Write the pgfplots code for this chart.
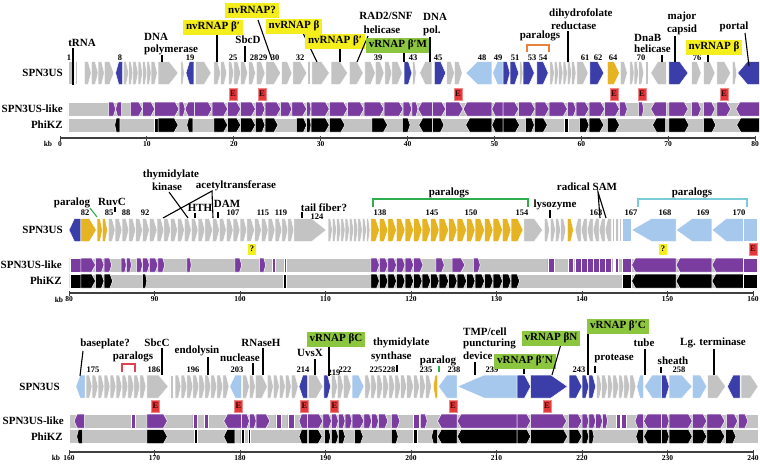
\documentclass[border=0pt]{standalone}
\usepackage{pgfplots}
\pgfplotsset{compat=1.18}
\usepackage{fontspec}
\setmainfont{Liberation Serif}
\definecolor{gg}{HTML}{C3C3C3}
\definecolor{bl}{HTML}{3B3EA8}
\definecolor{lb}{HTML}{A6C8EC}
\definecolor{gd}{HTML}{E6B422}
\definecolor{pu}{HTML}{7A3C9E}
\definecolor{bk}{HTML}{000000}
\definecolor{yb}{HTML}{F4EE1C}
\definecolor{gb}{HTML}{8CC63F}
\definecolor{eb}{HTML}{E5383B}
\definecolor{obr}{HTML}{E8823A}
\definecolor{gbr}{HTML}{2DB04B}
\definecolor{cbr}{HTML}{7CCBDB}
\definecolor{rbr}{HTML}{E0404F}

\newcommand\onegene[8]{%
  \pgfmathsetmacro\hd{min(#3*(#6-#5),#4)}%
  \pgfmathsetmacro\tlx{#7<0 ? #6 : #5}%
  \pgfmathsetmacro\tpx{#7<0 ? #5 : #6}%
  \pgfmathsetmacro\nkx{\tpx-(#7)*\hd}%
  \pgfmathsetmacro\ylo{#1-#2}%
  \pgfmathsetmacro\yhi{#1+#2}%
  \edef\temp{\noexpand\addplot[fill=#8,draw=white,line width=0.5pt,forget plot] coordinates {(\tlx,\ylo) (\nkx,\ylo) (\tpx,#1) (\nkx,\yhi) (\tlx,\yhi)} -- cycle;}%
  \temp}
\newcommand\genes[2]{\foreach \xa/\xb/\dr/\cl in {#2}{\onegene{#1}{11.5}{0.45}{10}{\xa}{\xb}{\dr}{\cl}}}
\newcommand\bars[3]{\foreach \xa/\xb/\dr in {#3}{\onegene{#1}{7}{0.3}{0.45}{\xa}{\xb}{\dr}{#2}}}

\pgfplotsset{rowax/.style={scale only axis, clip=false, axis x line=bottom, axis y line=none,
  axis line style={-, line width=1.1pt, black!75}, tick style={line width=1pt, black!75},
  major tick length=5pt, tick align=center, ytick=\empty, enlargelimits=false, anchor=south west,
  xticklabel style={font=\fontsize{7.5}{8}\selectfont\bfseries, inner sep=1pt},
  /pgf/number format/assume math mode=true}}

\begin{document}
\begin{tikzpicture}
% ---------------- Row 1 ----------------
\begin{axis}[rowax, at={(60pt,-138pt)}, width=695pt, height=138pt, xmin=0, xmax=80, ymin=-138, ymax=0, xtick={0,10,...,80}]
\bars{-109}{gg}{0.9/80.5/0}
\bars{-125}{gg}{0.9/80.5/0}
\genes{-73}{1.0/1.4/0/gg,1.7/2.0/0/gg,2.8/3.6/1/gg,3.6/4.4/1/gg,4.4/5.1/1/gg,5.1/6.2/1/gg,6.4/7.2/-1/bl,7.3/7.9/1/gg,7.9/8.4/1/gg,8.4/9.0/1/gg,9.0/9.5/1/gg,9.5/10.0/1/gg,10.0/10.5/1/gg,10.5/11.2/1/gg,11.3/13.6/1/gg,13.9/14.3/1/gg,14.5/15.4/-1/bl,15.6/17.4/1/gg,17.7/18.5/1/gg,18.5/19.2/1/gg,19.4/20.0/1/gg,20.0/20.8/1/gg,20.8/21.6/1/gg,21.7/22.5/1/gg,22.6/23.6/1/gg,23.7/25.4/1/gg,25.5/26.7/1/gg,26.8/28.4/1/gg,28.5/28.8/0/gg,29.0/31.0/1/gg,31.2/33.1/1/gg,33.3/34.9/1/gg,35.1/36.3/1/gg,36.3/37.3/1/gg,37.4/38.2/1/gg,38.2/39.4/1/gg,39.6/40.5/1/bl,40.6/41.0/1/gg,41.4/42.8/-1/gg,43.1/44.4/1/bl,44.5/45.4/1/gg,45.4/46.3/1/gg,46.7/49.7/-1/lb,49.8/51.0/-1/lb,51.0/51.8/1/bl,51.8/52.8/1/bl,52.9/53.3/1/gg,53.3/54.6/1/bl,54.9/56.2/1/bl,56.4/56.9/1/gg,56.9/57.4/1/gg,57.4/57.9/1/gg,57.9/58.4/1/gg,58.4/58.9/1/gg,58.9/59.4/1/gg,59.5/60.8/1/gg,61.0/62.6/1/bl,63.0/64.4/1/gd,64.5/65.3/1/gg,65.6/66.1/1/gg,66.1/66.6/1/gg,66.6/67.2/1/gg,67.4/67.7/0/gg,68.0/69.8/-1/gg,70.1/72.3/1/bl,72.7/73.8/1/gg,74.1/75.4/1/gg,75.6/77.2/1/gg,77.4/77.9/1/gg,78.0/80.5/-1/bl}
\bars{-109}{pu}{5.6/6.4/1,6.4/7.1/-1,8.1/9.5/1,9.5/10.9/1,10.9/13.7/1,13.7/14.4/1,14.4/15.5/-1,15.5/17.5/1,17.5/19.3/1,19.3/20.8/1,20.8/22.5/1,22.5/23.6/1,23.6/25.4/1,25.4/26.7/1,26.7/28.4/1,28.4/28.9/1,28.9/31.0/1,31.0/33.1/1,33.1/35.0/1,35.0/37.3/1,37.3/39.5/1,39.5/40.5/1,40.5/41.2/1,41.2/42.9/-1,42.9/44.4/1,44.4/46.4/1,46.4/49.7/-1,49.7/51.0/-1,51.0/52.8/1,52.8/54.7/1,54.7/56.3/1,56.3/58.4/1,58.4/59.4/1,59.4/60.9/1,60.9/62.7/1,62.7/64.4/1,64.4/65.3/1,66.6/67.2/1,68.0/69.8/-1,70.1/72.3/1,72.7/73.8/1,74.1/75.4/1,75.6/77.2/1,77.8/80.5/-1}
\bars{-125}{bk}{6.3/6.9/-1,10.9/11.3/0,11.3/13.6/1,14.6/15.3/-1,17.7/19.3/1,19.3/20.8/1,20.8/22.5/1,22.5/23.6/1,23.6/25.1/1,27.2/28.4/1,28.4/28.9/1,28.9/31.0/1,31.0/32.8/1,35.9/37.7/1,39.4/40.3/1,41.3/42.9/-1,42.9/44.2/1,46.7/49.7/-1,49.7/51.0/-1,51.0/52.9/1,53.6/54.6/1,54.6/56.1/1,58.1/58.5/0,59.8/60.9/1,60.9/62.6/1,63.0/64.4/1,68.2/69.7/-1,70.1/72.4/1,74.1/75.5/1,77.9/80.5/-1}
\end{axis}
% ---------------- Row 2 ----------------
\begin{axis}[rowax, at={(69pt,-293pt)}, width=684pt, height=138pt, xmin=80, xmax=160, ymin=-293, ymax=-155, xtick={80,90,...,160}]
\bars{-265}{gg}{80.0/160.5/0}
\bars{-281}{gg}{80.0/160.5/0}
\genes{-230}{80.0/81.4/-1/bl,81.4/83.2/1/gd,83.3/83.9/1/gd,83.9/84.5/1/gd,84.6/85.4/1/gg,85.4/86.2/1/gg,86.2/87.0/1/gg,87.0/87.8/1/gg,87.8/88.6/1/gg,88.6/89.4/1/gg,89.4/90.3/1/gg,90.3/91.1/1/gg,91.1/91.9/1/gg,91.9/92.7/1/gg,92.7/93.5/1/gg,93.5/94.3/1/gg,94.3/95.1/1/gg,95.1/95.9/1/gg,95.9/96.8/1/gg,96.8/97.6/1/gg,97.6/98.4/1/gg,98.4/99.2/1/gg,99.2/100.0/1/gg,100.0/100.8/1/gg,100.8/101.7/1/gg,101.7/102.5/1/gg,102.5/103.3/1/gg,103.3/104.1/1/gg,104.1/104.9/1/gg,104.9/105.6/1/gg,105.6/106.3/1/gg,106.3/110.1/1/gg,110.3/110.8/1/gg,110.8/111.3/1/gg,111.3/111.8/1/gg,111.8/112.3/1/gg,112.3/112.8/1/gg,112.8/113.3/1/gg,113.3/113.8/1/gg,113.8/114.3/1/gg,114.3/114.8/1/gg,114.8/115.2/1/gg,115.3/116.3/1/gd,116.3/117.3/1/gd,117.3/118.3/1/gd,118.3/119.3/1/gd,119.3/120.3/1/gd,120.3/121.3/1/gd,121.3/122.3/1/gd,122.3/123.3/1/gd,123.3/124.4/1/gd,124.4/125.4/1/gd,125.4/126.5/1/gd,126.5/127.5/1/gd,127.5/128.6/1/gd,128.6/129.6/1/gd,129.6/130.7/1/gd,130.7/131.7/1/gd,131.7/133.1/1/gd,133.2/135.4/1/gg,135.6/136.2/1/gg,136.3/136.9/1/gg,136.9/137.5/1/gg,137.5/138.1/1/gg,138.3/139.0/1/gd,139.2/139.9/-1/gg,139.9/140.6/-1/gg,140.6/141.3/-1/gg,141.3/142.0/-1/gg,142.0/142.7/-1/gg,142.7/143.4/-1/gg,143.5/143.8/0/gg,143.9/144.2/0/gg,144.3/144.6/0/gg,144.7/145.8/0/lb,145.8/151.0/-1/lb,151.0/155.2/-1/lb,155.2/158.9/-1/lb,158.9/160.5/0/lb}
\bars{-265}{pu}{80.1/81.4/0,81.4/83.1/1,83.1/84.1/1,84.1/85.0/1,86.1/86.7/1,86.7/87.3/1,87.9/88.6/1,88.6/89.4/1,89.4/90.4/1,90.4/91.2/1,93.8/94.3/1,99.4/100.2/1,102.3/103.0/1,103.8/104.1/0,105.2/105.4/0,115.3/116.3/1,116.3/117.3/1,117.3/118.3/1,118.3/119.3/1,119.3/120.3/1,120.3/121.4/1,122.9/123.9/1,124.8/126.3/1,127.3/128.1/1,136.0/136.7/0,138.4/139.0/0,139.2/139.9/0,139.9/140.6/0,140.6/141.3/0,141.3/142.0/0,142.0/142.7/0,142.7/143.4/0,143.6/143.8/0,143.9/144.2/0,144.7/145.8/0,145.8/151.0/-1,151.0/155.2/-1,155.2/158.9/-1,158.9/160.5/0}
\bars{-281}{bk}{80.1/81.4/0,81.4/83.1/1,83.1/84.1/1,84.1/85.1/1,88.6/89.1/1,105.1/105.4/0,115.3/116.3/1,116.3/117.3/1,117.3/118.3/1,118.3/119.3/1,119.3/120.3/1,120.3/121.3/1,121.3/122.3/1,122.3/123.3/1,123.3/124.4/1,124.4/125.4/1,125.4/126.5/1,126.5/127.5/1,127.5/128.6/1,128.6/129.6/1,129.6/130.7/1,130.7/131.7/1,131.7/132.7/1,144.7/145.8/0,145.8/151.0/-1,151.0/155.2/-1,155.2/158.9/-1,158.9/160.5/0}
\end{axis}
% ---------------- Row 3 ----------------
\begin{axis}[rowax, at={(69pt,-452pt)}, width=684pt, height=147pt, xmin=160, xmax=240, ymin=-452, ymax=-305, xtick={160,170,...,240}]
\bars{-421}{gg}{160.0/240.6/0}
\bars{-436.5}{gg}{160.0/240.6/0}
\genes{-386.5}{160.8/161.9/-1/lb,162.0/162.7/1/gg,162.7/163.4/1/gg,163.4/164.1/1/gg,164.1/164.8/1/gg,164.8/165.5/1/gg,165.5/166.2/1/gg,166.2/166.9/1/gg,166.9/167.6/1/gg,167.6/168.3/1/gg,168.3/169.0/1/gg,169.1/171.6/1/gg,171.8/172.2/0/gg,172.4/173.1/1/gg,173.1/173.8/1/gg,173.8/174.5/1/gg,174.5/175.2/1/gg,175.2/175.9/1/gg,175.9/176.6/1/gg,176.6/177.3/1/gg,177.3/178.0/1/gg,178.0/178.7/1/gg,178.8/180.2/-1/lb,180.3/181.1/1/gg,181.1/181.8/1/gg,181.8/183.2/1/gg,183.2/183.9/1/gg,183.9/184.6/1/gg,184.6/185.3/1/gg,185.3/186.0/1/gg,186.0/186.8/1/gg,186.9/187.9/-1/bl,188.0/189.7/1/gg,189.8/190.6/1/bl,190.7/191.4/1/gg,191.4/192.1/1/gg,192.1/193.0/1/gg,193.1/194.5/1/lb,194.6/195.3/1/gg,195.3/196.0/1/gg,196.0/196.7/1/gg,196.7/197.4/1/gg,197.4/198.1/1/gg,198.1/198.8/1/gg,198.8/199.5/1/gg,199.5/200.3/1/gg,200.3/201.0/1/gg,201.0/201.7/1/gg,201.7/202.4/1/gg,202.6/203.1/-1/gd,203.2/205.4/-1/lb,205.4/212.4/-1/lb,212.4/214.0/1/bl,214.0/218.3/1/bl,218.5/220.0/1/bl,220.0/220.8/1/bl,220.8/221.6/1/bl,221.7/222.3/1/gg,222.3/223.0/1/gg,223.0/223.6/1/gg,223.6/224.3/1/gg,224.3/224.9/1/gg,224.9/225.6/1/gg,225.6/226.3/1/gg,226.4/227.2/-1/lb,227.3/229.3/-1/lb,229.3/230.2/1/bl,230.2/232.9/1/lb,232.9/234.6/1/lb,234.7/236.8/1/gg,237.0/238.5/-1/bl,238.6/240.6/1/gg}
\bars{-421}{pu}{160.6/161.8/-1,167.3/167.7/0,169.1/171.5/1,174.5/175.0/0,175.8/176.3/0,178.1/180.2/-1,180.2/181.1/1,181.1/181.9/1,181.9/183.5/1,184.2/184.8/0,185.6/186.3/0,186.9/187.9/-1,187.9/189.7/1,189.7/190.7/1,190.7/191.5/1,191.5/192.3/1,192.3/193.1/1,193.1/194.5/1,194.5/195.4/1,195.4/196.2/1,196.2/197.3/1,197.7/198.7/1,200.3/201.0/0,201.1/201.9/1,203.1/205.4/-1,205.4/212.4/-1,212.4/214.0/1,214.0/218.2/1,218.4/220.0/1,220.0/220.8/1,220.8/221.6/1,221.6/222.4/1,222.4/223.0/1,224.0/224.5/0,224.6/225.2/0,226.2/227.2/-1,227.2/229.3/-1,229.3/230.2/1,230.2/232.9/1,232.9/234.6/1,234.6/236.7/1,236.9/238.2/1,238.3/239.4/1}
\bars{-436.5}{bk}{160.9/161.6/-1,169.1/171.5/1,174.7/175.0/0,178.1/179.4/-1,180.1/180.5/0,181.0/181.2/0,186.9/187.9/-1,188.0/189.6/1,189.9/190.6/1,190.7/191.5/1,191.5/192.3/1,193.4/194.4/1,197.7/198.5/1,200.3/200.7/0,202.4/203.1/-1,203.1/205.4/-1,205.4/212.4/-1,212.4/214.0/1,214.0/218.3/1,218.5/220.0/1,220.0/220.8/1,220.8/221.4/1,226.3/227.2/-1,227.2/229.3/-1,229.3/230.2/1,230.2/232.9/1,232.9/234.6/1,234.6/236.7/1,236.8/238.0/1}
\end{axis}

% ---------------- Annotations ----------------
\begin{scope}[x=1pt,y=-1pt,
  lab/.style={font=\fontsize{11}{12}\selectfont\bfseries, inner sep=0pt, align=center},
  trk/.style={font=\fontsize{11}{12}\selectfont\bfseries, inner sep=0pt, anchor=east},
  num/.style={font=\fontsize{8.5}{9}\selectfont\bfseries, inner sep=0pt},
  kbl/.style={font=\fontsize{7.5}{8}\selectfont\bfseries, inner sep=0pt},
  ybox/.style={fill=yb, font=\fontsize{11}{12}\selectfont\bfseries, inner xsep=3pt, inner ysep=0pt, minimum height=15pt},
  gbox/.style={fill=gb, font=\fontsize{11}{12}\selectfont\bfseries, inner xsep=3pt, inner ysep=0pt, minimum height=15pt},
  ebox/.style={fill=eb, draw=eb!60, line width=0.6pt, text=black!80!red, font=\fontsize{8.5}{9}\selectfont\bfseries, inner xsep=1.2pt, inner ysep=0pt, minimum height=12pt},
  qbox/.style={fill=yb, font=\fontsize{8.5}{9}\selectfont\bfseries, inner xsep=1.5pt, inner ysep=0pt, minimum height=11pt},
  ld/.style={line width=1.1pt, black}]
% row 1
\node[trk] at (63,73) {SPN3US};
\node[trk] at (63,109) {SPN3US-like};
\node[trk] at (63,125) {PhiKZ};
\node[kbl] at (48,144) {kb};
\foreach \x/\t in {69/1,120/8,190/19,233/25,254/28,263/29,275/30,300/32,378/39,413/43,438/45,482/48,498/49,515/51,532/53,543/54,585/61,598/62,613/64,641/70,697/76}
  \node[num] at (\x,58) {\t};
\draw[ld] (73,48) -- (73,85);
\node[lab] at (82,43) {tRNA};
\node[lab, anchor=west] at (144,37) {DNA};
\node[lab, anchor=west] at (144,49.5) {polymerase};
\draw[ld] (162,55) -- (162,62);
\draw[ld] (217,33) -- (217,62);
\node[ybox] at (213,27) {nvRNAP β′};
\node[lab] at (248,40) {SbcD};
\draw[ld] (245,46) -- (245,62);
\draw[ld] (258,20) -- (272,60);
\node[ybox] at (252,10) {nvRNAP?};
\draw[ld] (303,33) -- (317,62);
\node[ybox] at (294,26) {nvRNAP β};
\draw[ld] (340,48) -- (340,62);
\node[ybox] at (335,41) {nvRNAP β′};
\node[lab] at (386,16) {RAD2/SNF};
\node[lab] at (382,30) {helicase};
\draw[ld] (368,36) -- (357,62);
\node[gbox] at (398,45) {vRNAP β′M};
\draw[ld] (404,53) -- (404,62);
\node[lab, anchor=west] at (423,17) {DNA};
\node[lab, anchor=west] at (423,31) {pol.};
\draw[ld] (430,37) -- (430,62);
\node[lab] at (540,36) {paralogs};
\draw[obr, line width=1.2pt] (527,52) -- (527,45) -- (549,45) -- (549,52);
\node[lab, anchor=west] at (549,14) {dihydrofolate};
\node[lab, anchor=west] at (551,26) {reductase};
\draw[ld] (568,31) -- (568,62);
\node[lab, anchor=west] at (634,37.5) {DnaB};
\node[lab, anchor=west] at (634,48.5) {helicase};
\draw[ld] (662,55) -- (662,62);
\node[lab] at (682,17) {major};
\node[lab] at (682,30) {capsid};
\draw[ld] (675,36) -- (675,62);
\draw[ld] (708,54) -- (708,62);
\node[ybox] at (714,47) {nvRNAP β};
\node[lab] at (734,27) {portal};
\draw[ld] (745,33) -- (749,66);
\foreach \x in {233,262,458,614,642,724} \node[ebox] at (\x,94) {E};
% row 2
\node[trk] at (63,230) {SPN3US};
\node[trk] at (62,265) {SPN3US-like};
\node[trk] at (62,281) {PhiKZ};
\node[kbl] at (59,300) {kb};
\foreach \x/\t in {85/82,109/85,126/88,145/92,233/107,263/115,281/119,380/138,432/145,471/150,522/154,596/163,631/167,665/168,703/169,739/170}
  \node[num] at (\x,213) {\t};
\node[num] at (317,217) {124};
\node[lab] at (72,203) {paralog};
\draw[gbr, line width=1.1pt] (90,208) -- (97,217);
\node[lab] at (112,202) {RuvC};
\draw[ld] (115,207) -- (115,212);
\node[lab] at (171,175) {thymidylate};
\node[lab] at (167,187) {kinase};
\draw[ld] (169,192) -- (188,218);
\node[lab] at (236,186) {acetyltransferase};
\draw[ld] (163,218) -- (212,191) -- (213,218);
\node[lab] at (200,208) {HTH};
\draw[ld] (195,213) -- (195,218);
\node[lab] at (227,204) {DAM};
\draw[ld] (218,212) -- (218,218);
\node[lab] at (324,208) {tail fiber?};
\draw[ld] (302,212) -- (302,218);
\draw[gbr, line width=1.2pt] (373,207) -- (373,199) -- (528,199) -- (528,207);
\node[lab] at (449,193) {paralogs};
\node[lab] at (555,205) {lysozyme};
\draw[ld] (550,210) -- (550,218);
\node[lab] at (587,187) {radical SAM};
\draw[ld] (600,218) -- (598,192) -- (606,218);
\draw[cbr, line width=1.2pt] (638,207) -- (638,199) -- (747,199) -- (747,207);
\node[lab] at (692,193) {paralogs};
\node[qbox] at (252,249) {?};
\node[qbox] at (663,249) {?};
\node[ebox] at (753,249) {E};
% row 3
\node[trk] at (60,386.5) {SPN3US};
\node[trk] at (64,421) {SPN3US-like};
\node[trk] at (63,436.5) {PhiKZ};
\node[kbl] at (56,458) {kb};
\foreach \x/\t in {93/175,154/186,193/196,237/203,303/214,345/222,376/225,389/228,426/235,454/238,492/239,579/243,679/258}
  \node[num] at (\x,370) {\t};
\node[num] at (334,373) {219};
\node[lab] at (105,344) {baseplate?};
\draw[ld] (83,351) -- (80,376);
\node[lab] at (133,357) {paralogs};
\draw[rbr, line width=1.2pt] (122,372) -- (122,364) -- (135,364) -- (135,372);
\node[lab] at (157,343) {SbcC};
\draw[ld] (162,348) -- (162,375);
\node[lab] at (197,351) {endolysin};
\draw[ld] (208,357) -- (208,375);
\node[lab] at (240,358) {nuclease};
\draw[ld] (253,363) -- (253,375);
\node[lab] at (261,343) {RNaseH};
\draw[ld] (263,348) -- (263,375);
\node[lab] at (310,353) {UvsX};
\draw[ld] (315,359) -- (315,375);
\draw[ld] (329,346) -- (329,376);
\node[gbox] at (336,339) {vRNAP βC};
\node[lab, anchor=west] at (373,343) {thymidylate};
\node[lab, anchor=west] at (371,357) {synthase};
\draw[ld] (397,365) -- (397,372);
\node[lab] at (438,361) {paralog};
\draw[gbr, line width=1.1pt] (439,366) -- (439,372);
\node[lab, anchor=west] at (463,332) {TMP/cell};
\node[lab, anchor=west] at (463,344) {puncturing};
\node[lab, anchor=west] at (463,356) {device};
\draw[ld] (475,362) -- (475,375);
\draw[ld] (524,367) -- (524,374);
\node[gbox] at (525,361) {vRNAP β′N};
\draw[ld] (561,344) -- (552,375);
\node[gbox] at (551,338) {vRNAP βN};
\draw[ld] (588,330) -- (588,375);
\node[gbox] at (618,326) {vRNAP β′C};
\draw[ld] (595,366) -- (595,373);
\node[lab] at (614,359) {protease};
\node[lab] at (644,343) {tube};
\draw[ld] (645,349) -- (645,375);
\node[lab] at (673,361) {sheath};
\draw[ld] (661,367) -- (661,373);
\node[lab] at (713,343) {Lg. terminase};
\draw[ld] (714,349) -- (714,375);
\foreach \x in {155.5,238.5,304.5,334.5,453,547} \node[ebox] at (\x,406) {E};
\end{scope}
\pgfresetboundingbox
\useasboundingbox (0pt,0pt) rectangle (760pt,-463pt);
\end{tikzpicture}
\end{document}
